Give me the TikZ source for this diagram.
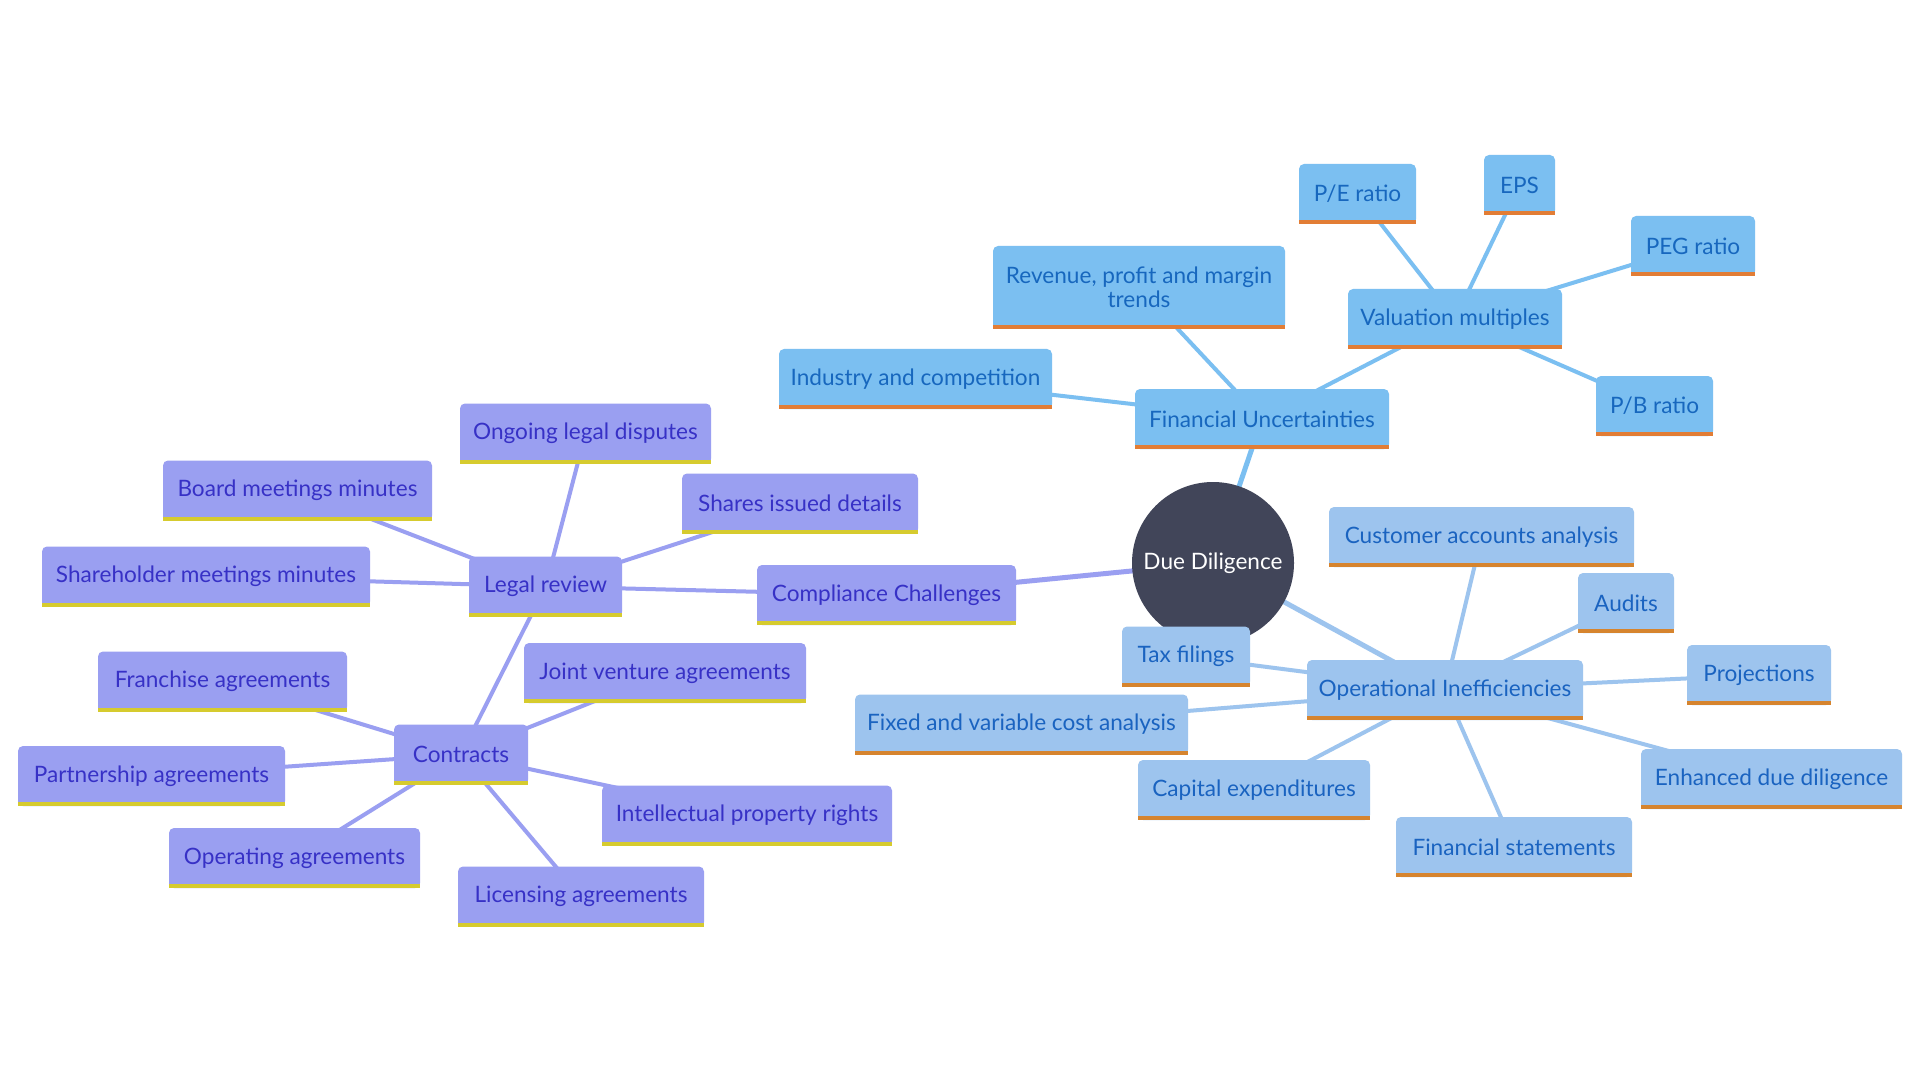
\documentclass[tikz,border=0pt]{standalone}
\usepackage{fontspec}
\setmainfont{Lato}
\usetikzlibrary{backgrounds}
\definecolor{finfill}{HTML}{7BBFF1}
\definecolor{fintext}{HTML}{1767BE}
\definecolor{finbar}{HTML}{E27D35}
\definecolor{opfill}{HTML}{9DC4EE}
\definecolor{optext}{HTML}{1A63C0}
\definecolor{opbar}{HTML}{D6842E}
\definecolor{cofill}{HTML}{9A9FF1}
\definecolor{cotext}{HTML}{3731C6}
\definecolor{cobar}{HTML}{D6CB2E}
\definecolor{rootfill}{HTML}{414559}
\begin{document}
\begin{tikzpicture}[x=0.5pt,y=-0.5pt,
  box/.style={rectangle, rounded corners=2.5pt, inner sep=0pt, minimum height=30pt,
    font=\fontsize{11.3}{12}\selectfont, align=center},
  fin/.style={box, fill=finfill, text=fintext},
  opn/.style={box, fill=opfill, text=optext},
  con/.style={box, fill=cofill, text=cotext},
  rootnode/.style={circle, fill=rootfill, text=white, inner sep=0pt, minimum size=81pt,
    font=\fontsize{11.3}{12}\selectfont},
  finedge/.style={draw=finfill, line width=2pt},
  opedge/.style={draw=opfill, line width=2pt},
  coedge/.style={draw=cofill, line width=2pt},
  thick1/.style={line width=2.5pt}]
\useasboundingbox (0,0) rectangle (1920,1080);

% root
\node[rootnode] (root) at (1213,563) {Due Diligence};

% financial
\node[fin, minimum width=127pt] (fu) at (1262,419) {Financial Uncertainties};
\node[fin, minimum width=146pt, minimum height=41.5pt] (rev) at (1139,287.5) {Revenue, profit and margin\\trends};
\node[fin, minimum width=136.5pt] (ind) at (915.5,379) {Industry and competition};
\node[fin, minimum width=107pt] (val) at (1455,319) {Valuation multiples};
\node[fin, minimum width=58.5pt] (pe) at (1357.5,194) {P/E ratio};
\node[fin, minimum width=35.5pt] (eps) at (1519.5,185) {EPS};
\node[fin, minimum width=62pt] (peg) at (1693,246) {PEG ratio};
\node[fin, minimum width=58.5pt] (pb) at (1654.5,406) {P/B ratio};

% operational
\node[opn, minimum width=138pt] (op) at (1445,690) {Operational Inefficiencies};
\node[opn, minimum width=152.5pt] (cust) at (1481.5,537) {Customer accounts analysis};
\node[opn, minimum width=48pt] (aud) at (1626,603) {Audits};
\node[opn, minimum width=72pt] (proj) at (1759,675) {Projections};
\node[opn, minimum width=130.5pt] (edd) at (1771.5,779) {Enhanced due diligence};
\node[opn, minimum width=118pt] (fs) at (1514,847) {Financial statements};
\node[opn, minimum width=116pt] (capex) at (1254,790) {Capital expenditures};
\node[opn, minimum width=166.5pt] (fixed) at (1021.5,724.5) {Fixed and variable cost analysis};
\node[opn, minimum width=64pt] (tax) at (1186,656.5) {Tax filings};

% compliance
\node[con, minimum width=129.5pt] (comp) at (886.5,595) {Compliance Challenges};
\node[con, minimum width=76.5pt] (legal) at (545.5,586.5) {Legal review};
\node[con, minimum width=125.5pt] (ong) at (585.5,433.5) {Ongoing legal disputes};
\node[con, minimum width=134.5pt] (board) at (297.5,490.5) {Board meetings minutes};
\node[con, minimum width=118pt] (shares) at (800,503.5) {Shares issued details};
\node[con, minimum width=164pt] (sh) at (206,576.5) {Shareholder meetings minutes};
\node[con, minimum width=67pt] (contracts) at (461,754.5) {Contracts};
\node[con, minimum width=141pt] (jv) at (665,673) {Joint venture agreements};
\node[con, minimum width=124.5pt] (fr) at (222.5,681.5) {Franchise agreements};
\node[con, minimum width=133.5pt] (part) at (151.5,776) {Partnership agreements};
\node[con, minimum width=125.5pt] (oper) at (294.5,858) {Operating agreements};
\node[con, minimum width=123pt] (lic) at (581,896.5) {Licensing agreements};
\node[con, minimum width=145pt] (ip) at (747,815.5) {Intellectual property rights};

% square bottoms and coloured bars
\foreach \n in {fu,rev,ind,val,pe,eps,peg,pb}{
  \fill[finfill] ([yshift=3pt]\n.south west) rectangle (\n.south east);
  \fill[finbar] (\n.south west) rectangle ([yshift=2pt]\n.south east);}
\foreach \n in {op,cust,aud,proj,edd,fs,capex,fixed,tax}{
  \fill[opfill] ([yshift=3pt]\n.south west) rectangle (\n.south east);
  \fill[opbar] (\n.south west) rectangle ([yshift=2pt]\n.south east);}
\foreach \n in {comp,legal,ong,board,shares,sh,contracts,jv,fr,part,oper,lic,ip}{
  \fill[cofill] ([yshift=3pt]\n.south west) rectangle (\n.south east);
  \fill[cobar] (\n.south west) rectangle ([yshift=2pt]\n.south east);}

\begin{scope}[on background layer]
  \fill[white] (0,0) rectangle (1920,1080);
  \draw[finedge, thick1] (root.center) -- (fu.center);
  \draw[opedge, thick1] (root.center) -- (op.center);
  \draw[coedge, thick1] (root.center) -- (comp.center);
  \foreach \n in {rev,ind,val}{\draw[finedge] (fu.center) -- (\n.center);}
  \foreach \n in {pe,eps,peg,pb}{\draw[finedge] (val.center) -- (\n.center);}
  \foreach \n in {cust,aud,proj,edd,fs,capex,fixed,tax}{\draw[opedge] (op.center) -- (\n.center);}
  \draw[coedge] (comp.center) -- (legal.center);
  \foreach \n in {ong,board,shares,sh,contracts}{\draw[coedge] (legal.center) -- (\n.center);}
  \foreach \n in {jv,fr,part,oper,lic,ip}{\draw[coedge] (contracts.center) -- (\n.center);}
\end{scope}
\end{tikzpicture}
\end{document}
